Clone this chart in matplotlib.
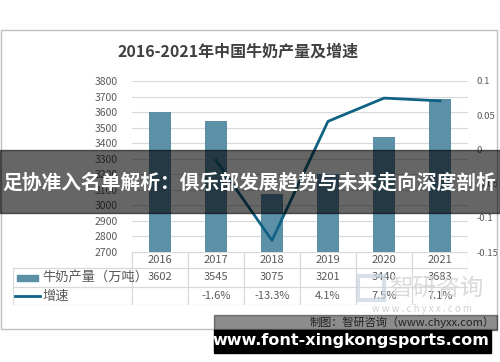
import matplotlib
matplotlib.use("Agg")
import matplotlib.pyplot as plt
from matplotlib.patches import Rectangle
from matplotlib.lines import Line2D

plt.rcParams['font.family'] = ['Noto Sans CJK SC', 'DejaVu Sans']

# ---- data -------------------------------------------------------------
years = ["2016", "2017", "2018", "2019", "2020", "2021"]
output = [3602, 3545, 3075, 3201, 3440, 3683]          # 万吨
growth = [None, -0.016, -0.133, 0.041, 0.075, 0.071]
growth_labels = ["", "-1.6%", "-13.3%", "4.1%", "7.5%", "7.1%"]
left_ticks = [2700, 2800, 2900, 3000, 3100, 3200, 3300, 3400, 3500, 3600, 3700, 3800]
right_ticks = [-0.15, -0.1, -0.05, 0, 0.05, 0.1]
right_tick_labels = ["-0.15", "-0.1", "-0.05", "0", "0.05", "0.1"]

title = "2016-2021年中国牛奶产量及增速"
series_names = ["牛奶产量（万吨）", "增速"]
banner = "足协准入名单解析：俱乐部发展趋势与未来走向深度剖析"
source = "制图：智研咨询（www.chyxx.com）"
site = "www.font-xingkongsports.com"

BAR_C = "#5b90a7"
LINE_C = "#0f6283"
GRID_C = "#d9d9d9"
TXT_C = "#595959"

W, H = 500, 362


def box(x0, y0, x1, y1):
    # pixel box (top-left origin) -> figure fraction rect
    return [x0 / W, 1 - y1 / H, (x1 - x0) / W, (y1 - y0) / H]


fig = plt.figure(figsize=(5, 3.62), dpi=100)

# chart frame
fig.patches.append(Rectangle((1 / W, 1 - 329 / H), 496 / W, 299 / H,
                             transform=fig.transFigure, fill=False,
                             edgecolor="#bfbfbf", lw=1))

fig.text(238 / W, 1 - 52 / H, title, ha="center", va="center",
         fontsize=11.5, fontweight="bold", color="#404040")

# ---- main axes ----------------------------------------------------------
ax = fig.add_axes(box(132, 81, 468, 252))
x = list(range(len(years)))
ax.bar(x, output, width=0.41, color=BAR_C, zorder=2)
ax.set_xlim(-0.5, len(years) - 0.5)
ax.set_ylim(2700, 3800)
ax.set_yticks(left_ticks)
ax.yaxis.grid(True, color=GRID_C, lw=0.8, zorder=0)
ax.set_xticks([])
for s in ax.spines.values():
    s.set_visible(False)
ax.tick_params(axis="y", length=0, labelsize=7.5, labelcolor=TXT_C, pad=10)

ax2 = ax.twinx()
gx = [i for i, g in zip(x, growth) if g is not None]
gy = [g for g in growth if g is not None]
ax2.plot(gx, gy, color=LINE_C, lw=2, zorder=3)
ax2.set_ylim(-0.15, 0.1)
ax2.set_yticks(right_ticks)
ax2.set_yticklabels(right_tick_labels)
for s in ax2.spines.values():
    s.set_visible(False)
ax2.tick_params(axis="y", length=0, labelsize=6.8, labelcolor=TXT_C, pad=6)

# ---- data table ---------------------------------------------------------
tab = fig.add_axes(box(13, 252, 468, 305))
tab.set_xlim(-0.5 - 119 / 56, len(years) - 0.5)
rows = [0, 16, 35, 53]   # row edges (top to bottom)
tab.set_ylim(rows[-1], rows[0])
tab.axis("off")
lc = dict(color=GRID_C, lw=0.9)
tab.add_line(Line2D([-0.5, len(years) - 0.5], [rows[0], rows[0]], **lc))
for r in rows[1:]:
    tab.add_line(Line2D([tab.get_xlim()[0], len(years) - 0.5], [r, r], **lc))
for b in range(len(years) + 1):
    tab.add_line(Line2D([b - 0.5, b - 0.5], [rows[0], rows[-1]], **lc))
x_left = tab.get_xlim()[0]
tab.add_line(Line2D([x_left, x_left], [rows[1], rows[-1]], **lc))

mid = [(rows[i] + rows[i + 1]) / 2 for i in range(3)]
for i, yr in enumerate(years):
    tab.text(i, mid[0], yr, ha="center", va="center", fontsize=8, color=TXT_C)
    tab.text(i, mid[1], str(output[i]), ha="center", va="center", fontsize=8, color=TXT_C)
    tab.text(i, mid[2], growth_labels[i], ha="center", va="center", fontsize=8, color=TXT_C)

# legend keys in the first column
tab.add_patch(Rectangle((x_left + 0.07, mid[1] - 3), 0.38, 6, color=BAR_C))
tab.add_line(Line2D([x_left + 0.04, x_left + 0.48], [mid[2], mid[2]], color=LINE_C, lw=2))
tab.text(x_left + 0.52, mid[1], series_names[0], ha="left", va="center",
         fontsize=9.5, color=TXT_C)
tab.text(x_left + 0.52, mid[2], series_names[1], ha="left", va="center",
         fontsize=9.5, color=TXT_C)

# watermark
fig.patches.append(Rectangle((358 / W, 1 - 300 / H), 26 / W, 24 / H,
                             transform=fig.transFigure, fill=False,
                             edgecolor="#c8d4e0", lw=3, alpha=0.7))
fig.text(436 / W, 1 - 289 / H, "智研咨询", ha="center", va="center",
         fontsize=17, color="#d4d4d4", alpha=0.85)
fig.text(422 / W, 1 - 309 / H, "w w w . c h y x x . c o m", ha="center",
         va="center", fontsize=7, color="#d0d0d0")

# ---- overlays -----------------------------------------------------------
fig.patches.append(Rectangle((0, 1 - 213 / H), 1, 63 / H, transform=fig.transFigure,
                             color="black", alpha=0.6, zorder=10))
fig.text(249 / W, 1 - 183 / H, banner, ha="center", va="center", fontsize=14.2,
         fontweight="bold", color="white", zorder=11)

fig.patches.append(Rectangle((214 / W, 1 - 330 / H), 283 / W, 15 / H,
                             transform=fig.transFigure, color="black", alpha=0.45,
                             zorder=10))
fig.text(495 / W, 1 - 322 / H, source, ha="right", va="center", fontsize=8,
         color="#222222", zorder=11)
fig.patches.append(Rectangle((214 / W, 1 - 353 / H), 277 / W, 23 / H,
                             transform=fig.transFigure, color="black", zorder=10))
fig.text(351 / W, 1 - 340 / H, site, ha="center", va="center", fontsize=11.5,
         fontweight="bold", color="white", family="DejaVu Sans", zorder=11)

fig.savefig("out.png", dpi=100)
